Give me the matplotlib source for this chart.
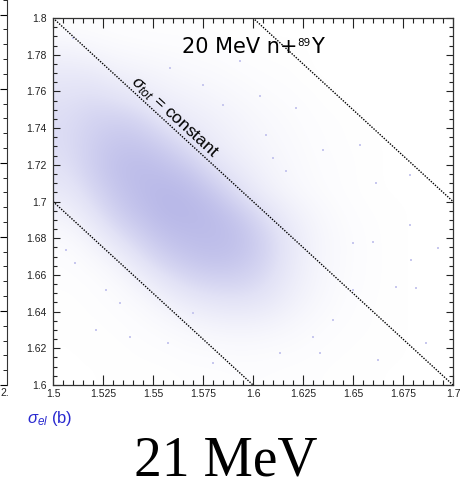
import numpy as np
import matplotlib
matplotlib.use("Agg")
import matplotlib.pyplot as plt
from matplotlib.colors import LinearSegmentedColormap

plt.rcParams["font.family"] = ["Liberation Sans", "DejaVu Sans"]
plt.rcParams["mathtext.fontset"] = "custom"
plt.rcParams["mathtext.rm"] = "Liberation Sans"
plt.rcParams["mathtext.it"] = "Liberation Sans:italic"
plt.rcParams["mathtext.sf"] = "Liberation Sans"

# axis ranges (barns)
sig_el_range = [1.5, 1.7]
sig_non_range = [1.6, 1.8]

# estimated point density of the sample cloud, 0.0125 b cells,
# rows from top (1.8) to bottom (1.6), columns from 1.5 to 1.7
density = [
    [0.5, 0.4, 0.3, 0.2, 0.2, 0.2, 0.1, 0.1, 0.0, 0.0, 0.0, 0.0, 0.0, 0.0, 0.0, 0.0],
    [2.0, 1.5, 1.0, 0.8, 0.6, 0.5, 0.4, 0.2, 0.1, 0.1, 0.0, 0.0, 0.0, 0.0, 0.0, 0.0],
    [3.5, 3.5, 2.5, 2.0, 1.5, 1.0, 0.8, 0.5, 0.3, 0.2, 0.0, 0.0, 0.0, 0.0, 0.0, 0.0],
    [4.5, 5.0, 4.5, 3.5, 2.5, 2.0, 1.5, 1.0, 0.6, 0.4, 0.2, 0.0, 0.0, 0.0, 0.0, 0.0],
    [5.0, 6.0, 6.5, 6.0, 4.0, 3.0, 2.3, 1.6, 1.0, 0.6, 0.3, 0.2, 0.0, 0.0, 0.0, 0.0],
    [5.0, 6.5, 7.5, 7.5, 6.5, 4.5, 3.0, 2.0, 1.3, 0.8, 0.4, 0.2, 0.1, 0.0, 0.0, 0.0],
    [4.5, 6.5, 8.0, 8.5, 8.0, 7.0, 4.5, 3.0, 1.8, 1.0, 0.5, 0.3, 0.1, 0.0, 0.0, 0.0],
    [3.5, 5.5, 7.5, 8.5, 9.0, 8.5, 7.0, 4.5, 2.5, 1.3, 0.6, 0.3, 0.1, 0.0, 0.0, 0.0],
    [2.0, 4.0, 6.5, 8.0, 9.0, 9.0, 8.5, 7.0, 4.5, 2.5, 1.2, 0.5, 0.2, 0.1, 0.0, 0.0],
    [0.8, 2.0, 4.5, 6.5, 8.0, 8.5, 8.5, 8.0, 6.0, 3.5, 1.6, 0.7, 0.3, 0.1, 0.0, 0.0],
    [0.3, 0.8, 2.0, 4.5, 6.5, 7.5, 8.0, 7.5, 6.0, 3.5, 1.6, 0.7, 0.3, 0.1, 0.0, 0.0],
    [0.2, 0.3, 0.8, 2.0, 4.0, 5.5, 6.0, 6.0, 5.0, 3.0, 1.5, 0.6, 0.3, 0.1, 0.0, 0.0],
    [0.1, 0.2, 0.4, 0.8, 1.8, 3.0, 3.8, 4.0, 3.5, 2.2, 1.1, 0.5, 0.2, 0.1, 0.0, 0.0],
    [0.1, 0.1, 0.2, 0.4, 0.7, 1.2, 1.6, 1.8, 1.6, 1.1, 0.6, 0.3, 0.2, 0.1, 0.0, 0.0],
    [0.0, 0.1, 0.1, 0.2, 0.3, 0.5, 0.6, 0.7, 0.6, 0.5, 0.3, 0.2, 0.1, 0.1, 0.0, 0.0],
    [0.0, 0.0, 0.1, 0.1, 0.1, 0.2, 0.2, 0.3, 0.3, 0.2, 0.2, 0.1, 0.1, 0.0, 0.0, 0.0],
]

# isolated samples outside the dense cloud
stray_el = [1.65, 1.6785, 1.679, 1.6715, 1.6815, 1.6865, 1.63, 1.6335, 1.6625, 1.6135,
            1.66, 1.64, 1.65, 1.6925, 1.5215, 1.5385, 1.5575, 1.5265, 1.511, 1.57,
            1.58, 1.5335, 1.5065, 1.6035, 1.6215, 1.6535, 1.635, 1.6785, 1.6615, 1.6065,
            1.61, 1.6165, 1.5585, 1.575, 1.5935, 1.585, 1.51]
stray_non = [1.6774, 1.687, 1.668, 1.6534, 1.653, 1.6229, 1.626, 1.6174, 1.6136, 1.6174,
             1.678, 1.6354, 1.652, 1.6747, 1.63, 1.6262, 1.6229, 1.6518, 1.6665, 1.639,
             1.612, 1.6447, 1.6736, 1.7575, 1.751, 1.7308, 1.728, 1.7144, 1.71, 1.7362,
             1.7237, 1.7166, 1.7728, 1.7635, 1.7766, 1.7526, 1.789]

# lines of constant total cross section (b)
sig_tot_levels = [3.2, 3.3, 3.4]

x_ticks = [1.5, 1.525, 1.55, 1.575, 1.6, 1.625, 1.65, 1.675, 1.7]
x_labels = ["1.5", "1.525", "1.55", "1.575", "1.6", "1.625", "1.65", "1.675", "1.7"]
y_ticks = [1.6, 1.62, 1.64, 1.66, 1.68, 1.7, 1.72, 1.74, 1.76, 1.78, 1.8]
y_labels = ["1.6", "1.62", "1.64", "1.66", "1.68", "1.7", "1.72", "1.74", "1.76", "1.78", "1.8"]

W, H = 469, 487
fig = plt.figure(figsize=(W / 100, H / 100), dpi=100)
ax = fig.add_axes([53 / W, 1 - 385 / H, 400 / W, 367 / H])

cmap = LinearSegmentedColormap.from_list("cloud", ["#ffffff", "#e2e2f6", "#b8b8e8"])
ax.imshow(np.array(density), extent=sig_el_range + sig_non_range, origin="upper",
          cmap=cmap, vmin=0, vmax=9, interpolation="bicubic", aspect="auto")
ax.scatter(stray_el, stray_non, s=4, marker="s", color="#c8c8ee", linewidths=0)

xs = np.array(sig_el_range)
for c in sig_tot_levels:
    ax.plot(xs, c - xs, color="black", lw=1.0, ls=(0, (1, 1)))

ax.set_xlim(sig_el_range)
ax.set_ylim(sig_non_range)
ax.set_xticks(x_ticks)
ax.set_xticklabels(x_labels)
ax.set_yticks(y_ticks)
ax.set_yticklabels(y_labels)
ax.set_xticks(np.arange(1.5, 1.7001, 0.005), minor=True)
ax.set_yticks(np.arange(1.6, 1.8001, 0.005), minor=True)
ax.tick_params(axis="both", which="both", direction="in", top=True, right=True,
               labelsize=7.5, colors="#222222", width=0.8)
ax.tick_params(axis="x", which="major", length=7.5, pad=3)
ax.tick_params(axis="x", which="minor", length=3.8)
ax.tick_params(axis="y", which="major", length=5.2, pad=4.5)
ax.tick_params(axis="y", which="minor", length=3)
for sp in ax.spines.values():
    sp.set_linewidth(0.9)
    sp.set_color("#333333")

# title with a small superscript mass number
t1 = ax.text(1.5645, 1.7842, "20 MeV n+", fontsize=15, family="DejaVu Sans",
             ha="left", va="center")
sup = ax.annotate("89", xy=(1, 1), xycoords=t1, xytext=(0, -1), textcoords="offset points",
                  fontsize=7.5, family="DejaVu Sans", ha="left", va="top")
ax.annotate("Y", xy=(1, 0), xycoords=(sup, t1), xytext=(0, 0), textcoords="offset points",
            fontsize=15, family="DejaVu Sans", ha="left", va="bottom")

ax.text(1.5605, 1.746, r"$\sigma_{tot}$ = constant", fontsize=12.5, ha="center", va="center",
        rotation=-42.5, rotation_mode="anchor")

# sliver of the neighbouring panel at the left edge
ax0 = fig.add_axes([-60 / W, 1 - 385 / H, 67 / W, 400 / H])
ax0.set_xlim(0, 1)
ax0.set_ylim(0, 27)
for name in ["left", "top", "bottom"]:
    ax0.spines[name].set_visible(False)
ax0.spines["right"].set_color("#333333")
ax0.set_xticks([])
ax0.yaxis.tick_right()
ax0.set_yticks(range(0, 28, 5))
ax0.set_yticks(range(0, 28), minor=True)
ax0.tick_params(axis="y", which="both", direction="in", labelright=False)
ax0.tick_params(axis="y", which="major", length=5)
ax0.tick_params(axis="y", which="minor", length=3)
fig.text(0, 1 - 393 / H, "2.", fontsize=7.5, color="#222222", ha="left", va="center")

fig.text(27 / W, 1 - 418 / H, r"$\sigma_{el}$ (b)", fontsize=12, color="#2a2ad0",
         ha="left", va="center")
fig.text(226 / W, 1 - 476 / H, "21 MeV", fontsize=40, family="Liberation Serif",
         ha="center", va="baseline")

fig.savefig("out.png", dpi=100)
